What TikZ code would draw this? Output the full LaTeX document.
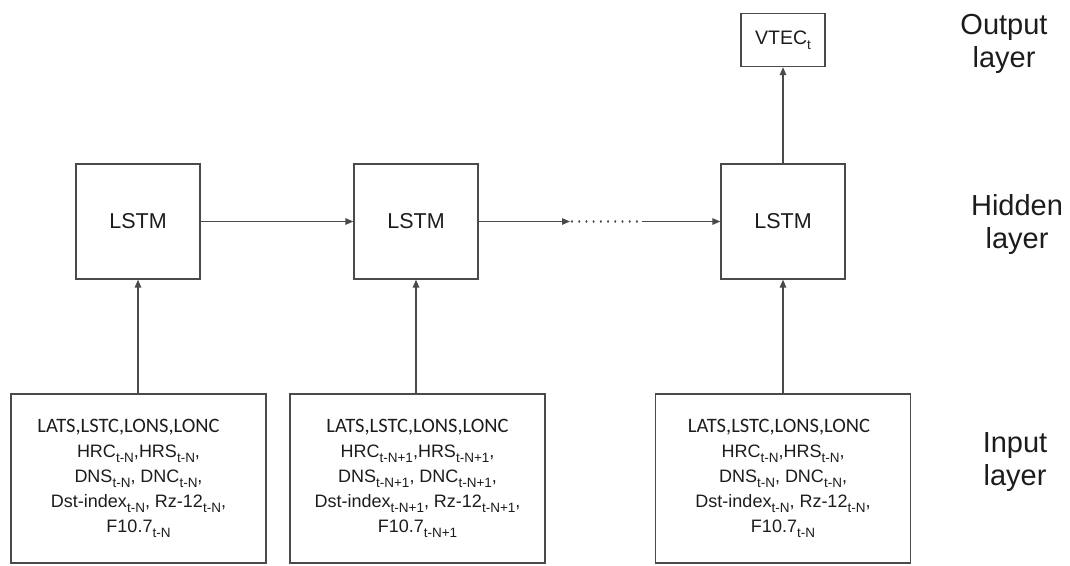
\documentclass[tikz,border=0pt]{standalone}
\usepackage{fontspec}
\setmainfont{Liberation Sans}
\newfontfamily\calfont{Carlito}
\usetikzlibrary{arrows.meta}

\definecolor{linegray}{HTML}{4A4A4A}
\definecolor{textdark}{HTML}{1C1C1C}

% subscript helper for the time indices
\newcommand\tsub[1]{\raisebox{-4.5pt}{\fontsize{13.5}{14}\selectfont #1}}
% first line of each input box, set in Carlito
\newcommand\geoline[1]{{\calfont\fontsize{20.5}{25}\selectfont #1}}

\begin{document}
\begin{tikzpicture}[x=1pt,y=-1pt,
  box/.style={draw=linegray, line width=1.3pt, inner sep=0pt, text=textdark},
  lstmbox/.style={box, minimum width=124pt, minimum height=115pt,
    font=\fontsize{21.5}{26}\selectfont},
  outbox/.style={box, minimum width=84pt, minimum height=53pt,
    font=\fontsize{19.5}{24}\selectfont},
  inbox/.style={box, minimum width=255pt, minimum height=169pt, align=center,
    font=\fontsize{18}{25}\selectfont},
  layerlabel/.style={align=center, text=textdark, inner sep=0pt,
    font=\fontsize{29}{33}\selectfont},
  conn/.style={draw=linegray, line width=1.4pt,
    -{Triangle[length=8pt,width=6.5pt]}},
  dotline/.style={draw=linegray, line width=2.2pt, line cap=round,
    dash pattern=on 0.01pt off 7.2pt}
]
\useasboundingbox (0,0) rectangle (1070,565);

% hidden layer
\node[lstmbox] (l1) at (138,221.5) {LSTM};
\node[lstmbox] (l2) at (416,221.5) {LSTM};
\node[lstmbox] (l3) at (783,221.5) {LSTM};

% output layer
\node[outbox] (out) at (783,40) {VTEC\tsub{t}};

% input layer
\node[inbox] (in1) at (138.5,478.5) {\hspace*{-20pt}\geoline{LATS,LSTC,LONS,LONC}\\
  HRC\tsub{t-N},HRS\tsub{t-N},\\
  DNS\tsub{t-N}, DNC\tsub{t-N},\\
  Dst-index\tsub{t-N}, Rz-12\tsub{t-N},\\
  F10.7\tsub{t-N}};
\node[inbox] (in2) at (417.5,478.5) {\geoline{LATS,LSTC,LONS,LONC}\\
  HRC\tsub{t-N+1},HRS\tsub{t-N+1},\\
  DNS\tsub{t-N+1}, DNC\tsub{t-N+1},\\
  Dst-index\tsub{t-N+1}, Rz-12\tsub{t-N+1},\\
  F10.7\tsub{t-N+1}};
\node[inbox] (in3) at (783,478.5) {\hspace*{-8pt}\geoline{LATS,LSTC,LONS,LONC}\\
  HRC\tsub{t-N},HRS\tsub{t-N},\\
  DNS\tsub{t-N}, DNC\tsub{t-N},\\
  Dst-index\tsub{t-N}, Rz-12\tsub{t-N},\\
  F10.7\tsub{t-N}};

% layer labels
\node[layerlabel] (lblout) at (1004,44) {Output\\layer};
\node[layerlabel] (lblhid) at (1017,224) {Hidden\\layer};
\node[layerlabel] (lblin) at (1015,462) {Input\\layer};

% recurrent chain
\coordinate (c1) at (570,221.5);
\coordinate (c2) at (572,221.5);
\coordinate (c3) at (638,221.5);
\coordinate (c4) at (642,221.5);
\draw[conn] (l1.east) -- (l2.west);
\draw[conn] (l2.east) -- (c1);
\draw[dotline] (c2) -- (c3);
\draw[conn] (c4) -- (l3.west);

% inputs to hidden units, hidden to output
\draw[conn] (in1.north -| l1.south) -- (l1.south);
\draw[conn] (in2.north -| l2.south) -- (l2.south);
\draw[conn] (in3.north -| l3.south) -- (l3.south);
\draw[conn] (l3.north) -- (out.south);
\end{tikzpicture}
\end{document}
